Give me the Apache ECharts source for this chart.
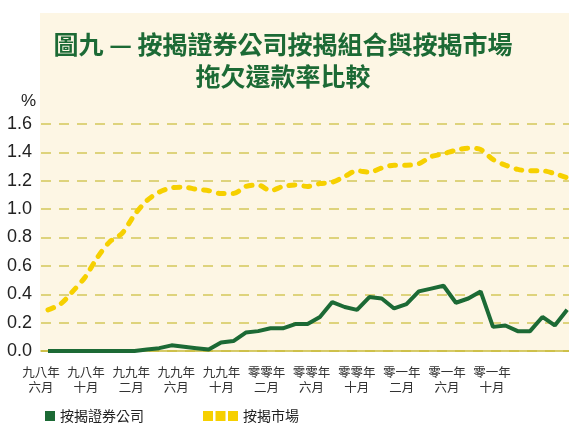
<!DOCTYPE html>
<html><head><meta charset="utf-8">
<script src="https://cdn.jsdelivr.net/npm/echarts@6/dist/echarts.min.js"></script>
<style>html,body{margin:0;padding:0;background:#fff}#c{width:569px;height:423px}</style>
</head><body><div id="c"></div>
<script>
// Monthly observations, June 1998 – December 2001 (43 points)
const months = [];
for (let y = 1998, m = 6; months.length < 43; ) { months.push(y + '-' + m); m++; if (m > 12) { m = 1; y++; } }
const hkmcValues = [0,0,0,0,0,0,0,0,0.01,0.02,0.04,0.03,0.02,0.01,0.06,0.07,0.13,0.14,0.16,0.16,0.19,0.19,0.24,0.345,0.31,0.29,0.38,0.37,0.30,0.33,0.42,0.44,0.46,0.34,0.37,0.42,0.17,0.18,0.14,0.14,0.24,0.18,0.29];
const marketValues = [0.29,0.33,0.42,0.52,0.66,0.77,0.83,0.96,1.06,1.12,1.15,1.155,1.14,1.13,1.11,1.11,1.16,1.17,1.13,1.16,1.17,1.16,1.18,1.19,1.23,1.27,1.26,1.29,1.31,1.31,1.32,1.37,1.39,1.415,1.43,1.42,1.35,1.31,1.28,1.27,1.27,1.25,1.22];
const tickLabels = ['九八年\n六月','九八年\n十月','九九年\n二月','九九年\n六月','九九年\n十月','零零年\n二月','零零年\n六月','零零年\n十月','零一年\n二月','零一年\n六月','零一年\n十月'];
const seriesNames = ['按揭證券公司','按揭市場'];
const titleText = '圖九 — 按揭證券公司按揭組合與按揭市場\n拖欠還款率比較';

const chart = echarts.init(document.getElementById('c'));
const green = '#1c6a35', yellow = '#f6d000', grid = '#d3c85a';
chart.setOption({
  animation: false,
  graphic: [
    { type: 'rect', z: -10, shape: { x: 40, y: 13, width: 529, height: 338 }, style: { fill: '#fdf6e4' } },
    { type: 'text', left: 21, top: 93, style: { text: '%', font: '17px "Liberation Sans"', fill: '#222' } },
    { type: 'text', x: 283, y: 28, style: { text: titleText, align: 'center', verticalAlign: 'top', lineHeight: 32,
        font: 'bold 25px "Noto Sans CJK TC"', fill: green } }
  ],
  grid: { left: 41, right: 0, top: 124, bottom: 72 },
  legend: [
    { left: 40, top: 404, itemWidth: 10, itemHeight: 10, itemGap: 7, data: [{ name: seriesNames[0], icon: 'rect' }],
      textStyle: { fontFamily: '"Noto Sans CJK TC"', fontSize: 14, color: '#222' } },
    { left: 198, top: 404, itemWidth: 35, itemHeight: 10, data: [{ name: seriesNames[1], icon: 'path://M0,0h10v10h-10z M12.5,0h10v10h-10z M25,0h10v10h-10z' }],
      textStyle: { fontFamily: '"Noto Sans CJK TC"', fontSize: 14, color: '#222' } }
  ],
  xAxis: [
    { type: 'value', min: -0.566, max: 42.15, axisLine: { show: true, lineStyle: { color: '#c9bb3a', width: 1.5 } },
      axisTick: { show: false }, axisLabel: { show: false }, splitLine: { show: false } },
    { type: 'value', min: 0, max: 11.707, interval: 1, position: 'bottom', axisLine: { show: false }, axisTick: { show: false }, splitLine: { show: false },
      axisLabel: { show: true, showMaxLabel: false, margin: 14, fontSize: 12.5, lineHeight: 15, color: '#333', fontFamily: '"Noto Sans CJK TC"',
        formatter: v => (Number.isInteger(v) && tickLabels[v]) ? tickLabels[v] : '' } }
  ],
  yAxis: {
    type: 'value', min: 0, max: 1.6, interval: 0.2,
    axisLine: { show: false }, axisTick: { show: false },
    axisLabel: { margin: 9, fontSize: 18, color: '#222', fontFamily: '"Liberation Sans"', formatter: v => v.toFixed(1) },
    splitLine: { lineStyle: { color: grid, type: [10, 8], width: 1.5 } }
  },
  series: [
    { name: seriesNames[0], type: 'line', xAxisIndex: 0, showSymbol: false, symbol: 'none', z: 4,
      data: hkmcValues.map((v, i) => [i, v]), color: green,
      lineStyle: { color: green, width: 4 }, itemStyle: { color: green } },
    { name: seriesNames[1], type: 'line', xAxisIndex: 0, showSymbol: false, symbol: 'none', smooth: 0.3, z: 3,
      data: marketValues.map((v, i) => [i, v]), color: yellow,
      lineStyle: { color: yellow, width: 5, type: [6, 9], cap: 'round' }, itemStyle: { color: yellow } }
  ]
});
</script></body></html>
